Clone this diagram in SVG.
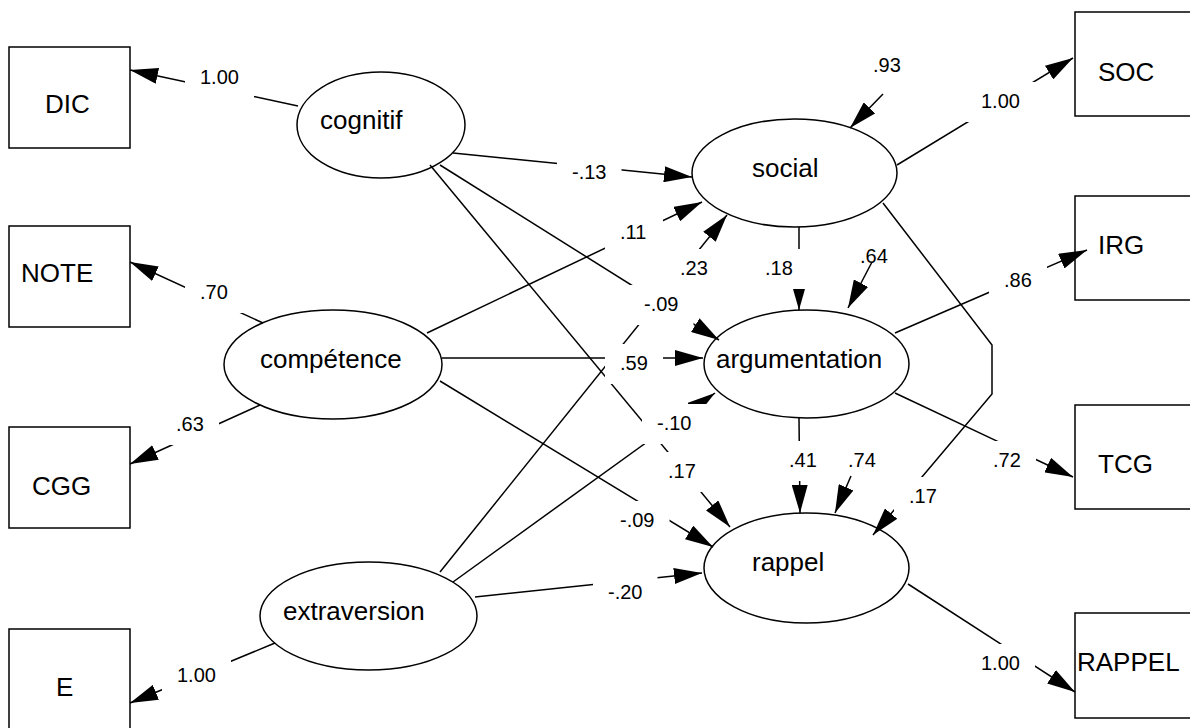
<svg xmlns="http://www.w3.org/2000/svg" width="1190" height="728" viewBox="0 0 1190 728">
<style>
.n{fill:#fff;stroke:#000;stroke-width:1.5}
.t{font-family:'Liberation Sans',Arial,Helvetica,sans-serif;font-size:26px;fill:#000}
.c line,.c polyline{stroke:#000;stroke-width:1.5;fill:none;marker-end:url(#ah)}
.l{font-family:'Liberation Sans',Arial,Helvetica,sans-serif;font-size:20px;fill:#000}
.bg{fill:#fff;stroke:none}
</style>
<defs>
<marker id="ah" markerUnits="userSpaceOnUse" markerWidth="28" markerHeight="16" viewBox="0 0 28 16" refX="28" refY="8" orient="auto"><path d="M0,0 L28,8 L0,16 z" fill="#000"/></marker>
</defs>
<rect width="1190" height="728" fill="#fff"/>
<g id="DIC"><rect class="n" x="9" y="47" width="121" height="101"/><text class="t" x="45" y="113">DIC</text></g>
<g id="NOTE"><rect class="n" x="9" y="226" width="121" height="101"/><text class="t" x="21" y="282">NOTE</text></g>
<g id="CGG"><rect class="n" x="9" y="427" width="121" height="101"/><text class="t" x="32" y="495">CGG</text></g>
<g id="E"><rect class="n" x="9" y="629" width="121" height="101"/><text class="t" x="56" y="696">E</text></g>
<g id="SOC"><rect class="n" x="1075" y="12" width="121" height="104"/><text class="t" x="1098" y="81">SOC</text></g>
<g id="IRG"><rect class="n" x="1075" y="196" width="121" height="104"/><text class="t" x="1098" y="254">IRG</text></g>
<g id="TCG"><rect class="n" x="1075" y="405" width="121" height="104"/><text class="t" x="1098" y="473">TCG</text></g>
<g id="RAPPEL"><rect class="n" x="1075" y="613" width="121" height="105"/><text class="t" x="1077" y="671">RAPPEL</text></g>
<g id="cognitif"><ellipse class="n" cx="381" cy="125" rx="84" ry="53"/><text class="t" x="320" y="129">cognitif</text></g>
<g id="competence"><ellipse class="n" cx="333" cy="364.5" rx="109" ry="54.5"/><text class="t" x="260" y="368">compétence</text></g>
<g id="extraversion"><ellipse class="n" cx="368.5" cy="616" rx="108.5" ry="54"/><text class="t" x="283" y="620">extraversion</text></g>
<g id="social"><ellipse class="n" cx="794.5" cy="173" rx="102.5" ry="54"/><text class="t" x="752" y="177">social</text></g>
<g id="argumentation"><ellipse class="n" cx="806.5" cy="364" rx="102.5" ry="54"/><text class="t" x="716" y="368">argumentation</text></g>
<g id="rappel"><ellipse class="n" cx="806.5" cy="568" rx="102.5" ry="55"/><text class="t" x="752" y="571">rappel</text></g>
<g id="connectors" class="c">
<line x1="298" y1="106" x2="130" y2="70"/>
<line x1="263" y1="323" x2="130" y2="262"/>
<line x1="260" y1="405" x2="130" y2="464"/>
<line x1="275" y1="643" x2="130" y2="703"/>
<line x1="453" y1="153" x2="692" y2="177"/>
<line x1="440" y1="165" x2="719" y2="340"/>
<line x1="430" y1="165" x2="730" y2="527"/>
<line x1="427" y1="333" x2="702" y2="202"/>
<line x1="442" y1="358" x2="703" y2="358"/>
<line x1="440" y1="381" x2="713" y2="547"/>
<line x1="440" y1="572" x2="727" y2="215"/>
<line x1="453" y1="582" x2="715" y2="393"/>
<line x1="475" y1="597" x2="702" y2="573"/>
<line x1="799" y1="227" x2="799" y2="310"/>
<line x1="799" y1="418" x2="800" y2="513"/>
<polyline points="883,203 992,345 992,394 873,535"/>
<line x1="897" y1="165" x2="1073" y2="58"/>
<line x1="895" y1="333" x2="1087" y2="250"/>
<line x1="895" y1="393" x2="1073" y2="477"/>
<line x1="908" y1="584" x2="1075" y2="692"/>
</g>
<g id="labels">
<rect class="bg" x="185" y="58" width="69" height="40"/><text class="l" x="200" y="84">1.00</text>
<rect class="bg" x="185" y="273" width="58" height="40"/><text class="l" x="200" y="299">.70</text>
<rect class="bg" x="161" y="405" width="58" height="40"/><text class="l" x="176" y="431">.63</text>
<rect class="bg" x="162" y="656" width="69" height="40"/><text class="l" x="177" y="682">1.00</text>
<rect class="bg" x="557" y="153" width="64.5" height="40"/><text class="l" x="572" y="179">-.13</text>
<rect class="bg" x="605" y="213" width="58" height="40"/><text class="l" x="620" y="239">.11</text>
<rect class="bg" x="665" y="249" width="58" height="40"/><text class="l" x="680" y="275">.23</text>
<rect class="bg" x="629" y="285" width="64.5" height="40"/><text class="l" x="644" y="311">-.09</text>
<rect class="bg" x="605" y="344" width="58" height="40"/><text class="l" x="620" y="370">.59</text>
<rect class="bg" x="642" y="404" width="64.5" height="40"/><text class="l" x="657" y="430">-.10</text>
<rect class="bg" x="653" y="452" width="58" height="40"/><text class="l" x="668" y="478">.17</text>
<rect class="bg" x="605" y="501" width="64.5" height="40"/><text class="l" x="620" y="527">-.09</text>
<rect class="bg" x="593" y="573" width="64.5" height="40"/><text class="l" x="608" y="599">-.20</text>
<rect class="bg" x="750" y="249" width="58" height="40"/><text class="l" x="765" y="275">.18</text>
<rect class="bg" x="774" y="441" width="58" height="40"/><text class="l" x="789" y="467">.41</text>
<rect class="bg" x="894" y="477" width="58" height="40"/><text class="l" x="909" y="503">.17</text>
<rect class="bg" x="966" y="82" width="69" height="40"/><text class="l" x="981" y="108">1.00</text>
<rect class="bg" x="989" y="261" width="58" height="40"/><text class="l" x="1004" y="287">.86</text>
<rect class="bg" x="978" y="441" width="58" height="40"/><text class="l" x="993" y="467">.72</text>
<rect class="bg" x="966" y="644" width="69" height="40"/><text class="l" x="981" y="670">1.00</text>
</g>
<g id="residuals">
<g class="c"><line x1="883" y1="94" x2="850" y2="128"/><line x1="872" y1="262" x2="848" y2="308"/><line x1="851" y1="476" x2="835" y2="513"/></g>
<text class="l" x="873" y="72">.93</text>
<text class="l" x="860" y="263">.64</text>
<text class="l" x="848" y="467">.74</text>
</g>
</svg>
